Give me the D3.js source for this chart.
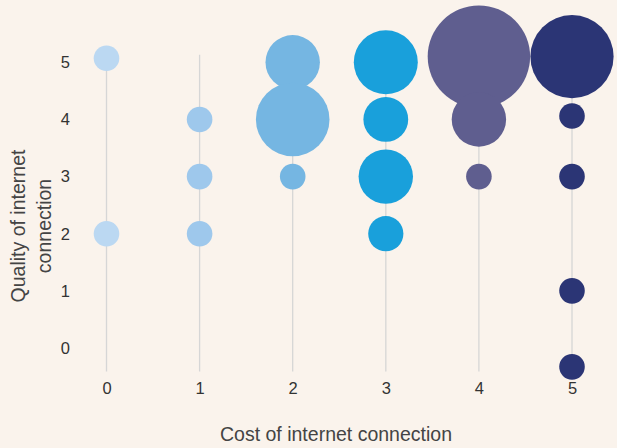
<!DOCTYPE html>
<html>
<head>
<meta charset="utf-8">
<script src="https://cdn.jsdelivr.net/npm/d3@7"></script>
<style>
  html, body { margin: 0; padding: 0; background: #faf3ec; }
  svg { display: block; }
</style>
</head>
<body>
<div id="chart_div"></div>
<script>
// cost on x, quality on y, count drives bubble size
var costs   = [0, 0, 1, 1, 1, 2, 2, 2, 3, 3, 3, 3, 4, 4, 4, 5, 5, 5, 5, 5];
var quality = [5.07, 2, 4, 3, 2, 5, 4, 3, 5, 4, 3, 2, 5.1, 4, 3, 5.1, 4.06, 3, 1, -0.33];
var counts  = [1, 1, 1, 1, 1, 4, 6, 1, 5, 3, 4, 2, 9, 4, 1, 7, 1, 1, 1, 1];

var x_ticks = [0, 1, 2, 3, 4, 5];
var y_ticks = [0, 1, 2, 3, 4, 5];
var column_colors = ['#bbd8f2', '#9ec8ec', '#75b6e2', '#19a0db', '#5f5e8f', '#2b3575'];

function figure() {
    var width = 617;
    var height = 448;

    var x = d3.scaleLinear().domain([0, 5]).range([106.5, 572]);
    var y = d3.scaleLinear().domain([0, 5]).range([348, 62.3]);
    var y_extent = [-0.41, 5.13];
    var r = d3.scaleLinear().domain([1, 9]).range([12.8, 51.2]);

    var data = costs.map(function(c, i) {
        return { cost: c, quality: quality[i], count: counts[i] };
    });

    var svg = d3.select('#chart_div')
        .append('svg')
        .attr('width', width)
        .attr('height', height)
        .style('background', '#faf3ec')
        .style('font-family', '"Liberation Sans", Arial, sans-serif');

    // vertical guide lines
    svg.append('g')
        .selectAll('line')
        .data(x_ticks)
        .enter()
        .append('line')
        .attr('x1', function(d) { return x(d); })
        .attr('x2', function(d) { return x(d); })
        .attr('y1', y(y_extent[1]))
        .attr('y2', y(y_extent[0]))
        .attr('stroke', '#d6d6d6')
        .attr('stroke-width', 1.3);

    svg.append('g')
        .selectAll('circle')
        .data(data)
        .enter()
        .append('circle')
        .attr('cx', function(d) { return x(d.cost); })
        .attr('cy', function(d) { return y(d.quality); })
        .attr('r', function(d) { return r(d.count); })
        .attr('fill', function(d) { return column_colors[d.cost]; });

    // axes, no domain lines or tick marks
    var x_axis = svg.append('g')
        .attr('transform', 'translate(0, 389)')
        .call(d3.axisBottom(x).tickValues(x_ticks).tickFormat(d3.format('d')).tickSize(0).tickPadding(0));
    x_axis.select('.domain').remove();
    x_axis.selectAll('text')
        .attr('dy', '0.32em')
        .style('font-size', '16.5px')
        .style('font-family', '"Liberation Sans", Arial, sans-serif')
        .attr('fill', '#333');

    var y_axis = svg.append('g')
        .attr('transform', 'translate(70, 0)')
        .call(d3.axisLeft(y).tickValues(y_ticks).tickFormat(d3.format('d')).tickSize(0).tickPadding(0));
    y_axis.select('.domain').remove();
    y_axis.selectAll('text')
        .style('font-size', '16.5px')
        .style('font-family', '"Liberation Sans", Arial, sans-serif')
        .attr('fill', '#333');

    svg.append('text')
        .attr('x', 336)
        .attr('y', 441)
        .attr('text-anchor', 'middle')
        .style('font-size', '19.5px')
        .attr('fill', '#444')
        .text('Cost of internet connection');

    var y_title = svg.append('text')
        .attr('transform', 'translate(25, 226) rotate(-90)')
        .attr('text-anchor', 'middle')
        .style('font-size', '19.5px')
        .attr('fill', '#444');
    y_title.append('tspan').attr('x', 0).attr('y', 0).text('Quality of internet');
    y_title.append('tspan').attr('x', 0).attr('y', 26).text('connection');
}

figure();
</script>
</body>
</html>
